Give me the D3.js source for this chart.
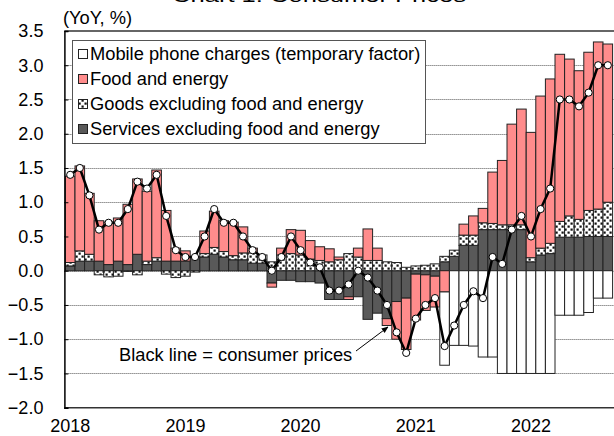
<!DOCTYPE html>
<html><head><meta charset="utf-8">
<script src="https://cdn.jsdelivr.net/npm/d3@7"></script>
<style>
html,body{margin:0;padding:0;background:#fff;}
svg{display:block;font-family:"Liberation Sans",Arial,sans-serif;}
</style></head><body>
<svg id="chart" width="614" height="436"></svg>
<script>
// ---- data ----
const firstMonth = new Date(Date.UTC(2018, 0, 1));
const lastMonthExcl = new Date(Date.UTC(2022, 9, 1)); // Jan 2018 .. Sep 2022
const yearLabels = ["2018", "2019", "2020", "2021", "2022"];
const yTicks = [-2.0, -1.5, -1.0, -0.5, 0.0, 0.5, 1.0, 1.5, 2.0, 2.5, 3.0, 3.5];
const seriesNames = ["Mobile phone charges (temporary factor)", "Food and energy", "Goods excluding food and energy", "Services excluding food and energy"];

const services = [
  0.07, 0.14, 0.14, 0.14, 0.09, 0.14, 0.09, 0.24, 0.09, 0.14, 0.14, 0.14,
  0.14, 0.19, 0.20, 0.24, 0.20, 0.16, 0.16, 0.11, 0.11, -0.18, -0.14, -0.14,
  -0.16, -0.16, -0.18, -0.42, -0.42, -0.38, -0.38, -0.71, -0.62, -0.70, -0.45, -0.40,
  -0.05, -0.06, -0.08, 0.13, 0.21, 0.37, 0.37, 0.60, 0.60, 0.60, 0.60, 0.60,
  0.13, 0.23, 0.25, 0.49, 0.49, 0.49, 0.50, 0.50, 0.50
];
const goods = [
  0.05, 0.15, 0.10, -0.06, -0.09, -0.08, -0.01, -0.06, 0.05, 0.05, -0.05, -0.10,
  -0.08, -0.02, 0.05, 0.10, 0.08, 0.06, 0.10, 0.15, 0.12, 0.13, 0.23, 0.25,
  0.23, 0.17, 0.15, 0.13, 0.16, 0.25, 0.20, 0.15, 0.15, 0.13, 0.12, 0.05,
  0.07, 0.08, 0.10, 0.08, 0.09, 0.15, 0.15, 0.10, 0.09, 0.07, 0.07, 0.07,
  0.06, 0.10, 0.15, 0.23, 0.31, 0.26, 0.38, 0.40, 0.50
];
const foodEnergy = [
  1.26, 1.24, 0.89, 0.59, 0.62, 0.63, 0.88, 1.10, 1.02, 1.28, 0.74, 0.19,
  0.15, 0.02, 0.33, 0.53, 0.45, 0.49, 0.38, 0.07, 0.00, -0.06, 0.10, 0.35,
  0.36, 0.27, 0.20, 0.19, 0.04, -0.04, 0.13, 0.46, 0.18, -0.10, -0.55, -0.75,
  -0.67, -0.52, -0.45, -0.31, 0.00, 0.16, 0.28, 0.21, 0.75, 0.94, 1.47, 1.69,
  1.83, 2.22, 2.40, 2.44, 2.29, 2.17, 2.31, 2.44, 2.31
];
const mobile = [
  0, 0, 0, 0, 0, 0, 0, 0, 0, 0, 0, 0,
  0, 0, 0, 0, 0, 0, 0, 0, 0, 0, 0, 0,
  0, 0, 0, 0, 0, 0, 0, 0, 0, 0, 0, 0,
  0, 0, 0, -1.07, -1.09, -1.09, -1.10, -1.26, -1.26, -1.50, -1.50, -1.50,
  -1.50, -1.50, -1.50, -0.65, -0.65, -0.65, -0.61, -0.40, -0.40
];
const cpi = [
  1.4, 1.5, 1.1, 0.6, 0.7, 0.7, 0.9, 1.3, 1.2, 1.4, 0.8, 0.3,
  0.2, 0.2, 0.5, 0.9, 0.7, 0.7, 0.5, 0.3, 0.2, 0.0, 0.2, 0.5,
  0.3, 0.12, 0.05, -0.29, -0.29, -0.2, 0.0, -0.1, -0.29, -0.5, -0.9, -1.2,
  -0.7, -0.5, -0.4, -1.1, -0.8, -0.5, -0.3, -0.4, 0.2, 0.1, 0.6, 0.8,
  0.5, 0.9, 1.2, 2.5, 2.5, 2.4, 2.6, 3.0, 3.0
];

// ---- build ----
const months = d3.utcMonths(firstMonth, lastMonthExcl);
const rows = months.map((m, i) => ({
  month: m, services: services[i], goods: goods[i], food: foodEnergy[i], mobile: mobile[i], cpi: cpi[i]
}));

const svg = d3.select("#chart");
const plotLeft = 65.4, barStep = 9.6, plotTop = 31, plotBottom = 407.7;
const x = d3.scaleBand().domain(months).range([plotLeft, plotLeft + barStep * months.length]).padding(0);
const y = d3.scaleLinear().domain([-2, 3.5]).range([plotBottom, plotTop]);

const pink = "#ff8c8c", dark = "#595959";
const fs = 18.3;

// pattern for goods
const defs = svg.append("defs");
const pat = defs.append("pattern").attr("id", "dots").attr("patternUnits", "userSpaceOnUse")
  .attr("width", 6).attr("height", 6);
pat.append("rect").attr("width", 6).attr("height", 6).attr("fill", "#fff");
pat.append("rect").attr("x", 0.5).attr("y", 0.5).attr("width", 2.2).attr("height", 2.2).attr("fill", "#111");
pat.append("rect").attr("x", 3.5).attr("y", 3.5).attr("width", 2.2).attr("height", 2.2).attr("fill", "#111");
defs.append("marker").attr("id", "arrow").attr("viewBox", "0 0 10 10").attr("refX", 9).attr("refY", 5)
  .attr("markerWidth", 7).attr("markerHeight", 7).attr("orient", "auto")
  .append("path").attr("d", "M0,1 L10,5 L0,9 z").attr("fill", "#000");

// gridlines
svg.append("g").selectAll("line").data(yTicks.filter(t => t > -2 && t < 3.5)).join("line")
  .attr("x1", plotLeft - 1).attr("x2", 614)
  .attr("y1", d => Math.round(y(d)) + 0.5).attr("y2", d => Math.round(y(d)) + 0.5)
  .attr("stroke", "#555").attr("stroke-width", 1).attr("stroke-dasharray", "1,1");

// frame top & bottom
[3.5, -2].forEach(v => {
  svg.append("line").attr("x1", plotLeft - 1).attr("x2", 614)
    .attr("y1", y(v)).attr("y2", y(v)).attr("stroke", "#333").attr("stroke-width", 1.5);
});

// stacked bars
const keys = ["services", "goods", "food", "mobile"];
const fills = { services: dark, goods: "url(#dots)", food: pink, mobile: "#fff" };
const stacked = d3.stack().keys(keys).offset(d3.stackOffsetDiverging)(rows);
const barG = svg.append("g");
stacked.forEach(s => {
  barG.append("g").selectAll("rect").data(s.filter(d => Math.abs(d[1] - d[0]) > 1e-9)).join("rect")
    .attr("x", d => x(d.data.month))
    .attr("width", x.bandwidth())
    .attr("y", d => y(Math.max(d[0], d[1])))
    .attr("height", d => Math.abs(y(d[0]) - y(d[1])))
    .attr("fill", fills[s.key])
    .attr("stroke", "#222").attr("stroke-width", 1);
});

// left axis
const yAxis = d3.axisLeft(y).tickValues(yTicks).tickFormat(d3.format(".1f")).tickSize(-4).tickPadding(21);
const ag = svg.append("g").attr("transform", `translate(${plotLeft - 1},0)`).call(yAxis);
ag.select(".domain").attr("stroke", "#000").attr("stroke-width", 1.5);
ag.selectAll(".tick line").attr("stroke", "#000");
ag.selectAll(".tick text").attr("font-size", 18).attr("fill", "#000").attr("font-family", "Liberation Sans, Arial, sans-serif");

// x labels (years, at January)
const jans = months.filter(m => m.getUTCMonth() === 0);
svg.append("g").selectAll("text").data(jans).join("text")
  .attr("x", d => x(d) + x.bandwidth() / 2)
  .attr("y", 432)
  .attr("text-anchor", "middle").attr("font-size", 18)
  .text((d, i) => yearLabels[i]);

// line
const line = d3.line().x(d => x(d.month) + x.bandwidth() / 2).y(d => y(d.cpi));
svg.append("path").datum(rows).attr("d", line).attr("fill", "none").attr("stroke", "#000").attr("stroke-width", 2.5);
svg.append("g").selectAll("circle").data(rows).join("circle")
  .attr("cx", d => x(d.month) + x.bandwidth() / 2).attr("cy", d => y(d.cpi)).attr("r", 3.6)
  .attr("fill", "#fff").attr("stroke", "#000").attr("stroke-width", 1);

// unit label
svg.append("text").attr("x", 63).attr("y", 24).attr("font-size", fs).text("(YoY, %)");

// title (mostly cut off at top, as in the reference)
svg.append("text").attr("x", 172).attr("y", 2).attr("font-size", 18)
  .attr("textLength", 294).attr("lengthAdjust", "spacingAndGlyphs")
  .text("Chart 1: Consumer Prices");

// legend
const lg = svg.append("g");
lg.append("rect").attr("x", 72.5).attr("y", 40.5).attr("width", 353).attr("height", 103)
  .attr("fill", "#fff").attr("stroke", "#555").attr("stroke-width", 1);
const legendFills = ["#fff", pink, "url(#dots)", dark];
seriesNames.forEach((name, i) => {
  const cy = 54 + i * 25;
  lg.append("rect").attr("x", 78.5).attr("y", cy - 4.5).attr("width", 9).attr("height", 9)
    .attr("fill", legendFills[i]).attr("stroke", "#222").attr("stroke-width", 1);
  lg.append("text").attr("x", 90).attr("y", cy).attr("dy", "0.35em").attr("font-size", fs).text(name);
});

// annotation
svg.append("text").attr("x", 119).attr("y", 355).attr("dy", "0.35em").attr("font-size", fs)
  .text("Black line = consumer prices");
svg.append("line").attr("x1", 356).attr("y1", 351).attr("x2", 388).attr("y2", 327)
  .attr("stroke", "#000").attr("stroke-width", 1).attr("marker-end", "url(#arrow)");
</script>
</body></html>
